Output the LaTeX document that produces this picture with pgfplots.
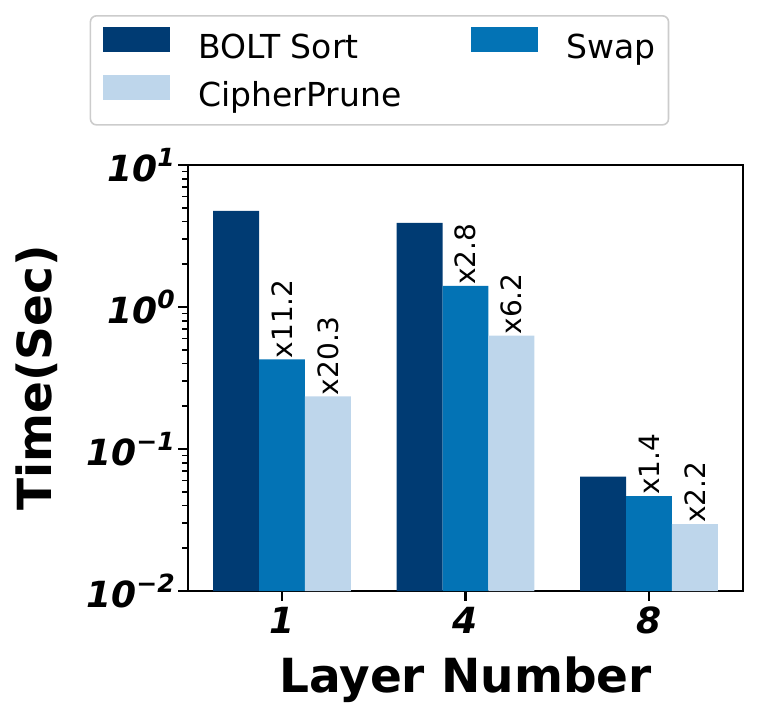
\documentclass[border=0pt]{standalone}
\usepackage{fontspec}
\setmainfont{DejaVu Sans}
\usepackage{pgfplots}
\pgfplotsset{compat=1.18}
\definecolor{cBolt}{HTML}{003B73}
\definecolor{cSwap}{HTML}{0373B5}
\definecolor{cCiph}{HTML}{BED6EB}
\definecolor{lgray}{HTML}{CCCCCC}
\newcommand{\sups}[1]{\raisebox{15pt}{\fontsize{25}{25}\selectfont #1}}
\pgfplotsset{
  myleg/.style={legend image code/.code={\fill[##1, sharp corners] (0pt,-2pt) rectangle (67pt,23pt);}},
  annot/.style={nodes near coords, point meta=explicit symbolic,
    every node near coord/.append style={rotate=90, anchor=west, inner sep=1pt,
    font=\fontsize{28}{33}\selectfont, text=black}},
}
\begin{document}
\begin{tikzpicture}
\path[use as bounding box] (-188pt,-128pt) rectangle (572pt,591pt);
\begin{axis}[
  at={(0pt,0pt)}, anchor=south west,
  scale only axis, width=555pt, height=426pt,
  ymode=log, ymin=0.01, ymax=10, log origin=infty,
  xmin=-0.5125, xmax=2.5125,
  xtick={0,1,2}, xticklabels={1,4,8},
  ytick={0.01,0.1,1,10},
  yticklabels={10\sups{−2},10\sups{−1},10\sups{0},10\sups{1}},
  tick pos=left, tick align=outside,
  major tick length=9.7pt, minor tick length=5.6pt,
  every major tick/.append style={line width=2.2pt, black},
  every minor tick/.append style={line width=1.7pt, black},
  axis line style={line width=2.2pt},
  ticklabel style={font=\fontsize{36}{43}\selectfont\bfseries\itshape},
  xticklabel style={anchor=base, yshift=-33pt},
  xlabel={Layer Number}, ylabel={Time(Sec)},
  label style={font=\fontsize{47}{56}\selectfont\bfseries},
  xlabel style={at={(axis description cs:0.5,-0.2394)}, anchor=base},
  ylabel style={at={(axis description cs:-0.246,0.5)}, anchor=base},
  legend columns=2, legend cell align=left,
  legend style={at={(axis description cs:0.345,1.352)}, anchor=north,
    draw=lgray, line width=1.6pt, rounded corners=6pt,
    font=\fontsize{33}{40}\selectfont,
    inner xsep=13pt, inner ysep=11.5pt,
    row sep=10pt,
    nodes={inner xsep=0pt, inner ysep=0pt, text height=23pt, text depth=7pt},
    /tikz/every odd column/.append style={column sep=28pt},
    /tikz/every even column/.append style={column sep=70pt}},
]
\addplot[ybar, bar width=0.25, bar shift=0, fill=cBolt, draw=none, myleg]
  coordinates {(-0.25,4.76) (0.75,3.92) (1.75,0.0638)};
\addlegendentry{BOLT Sort}
\addplot[ybar, bar width=0.25, bar shift=0, fill=cSwap, draw=none, myleg, annot]
  coordinates {(0,0.427) [x11.2] (1,1.41) [x2.8] (2,0.0466) [x1.4]};
\addlegendentry{Swap}
\addplot[ybar, bar width=0.25, bar shift=0, fill=cCiph, draw=none, myleg, annot]
  coordinates {(0.25,0.235) [x20.3] (1.25,0.628) [x6.2] (2.25,0.0296) [x2.2]};
\addlegendentry{CipherPrune}
\end{axis}
\end{tikzpicture}
\end{document}
